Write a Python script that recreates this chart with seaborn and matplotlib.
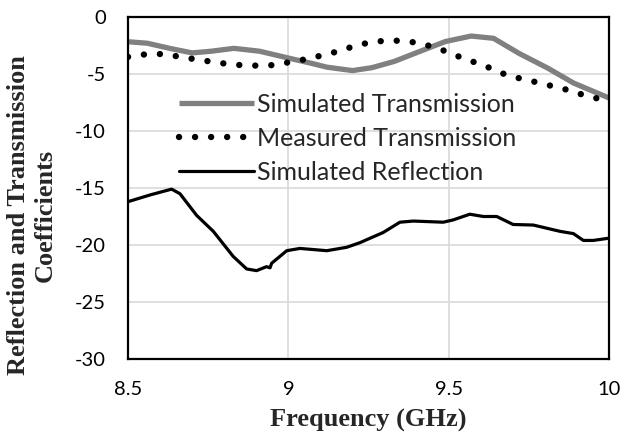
import matplotlib
matplotlib.use("Agg")
import matplotlib.pyplot as plt
import seaborn as sns
import pandas as pd

# Simulated transmission (GHz, dB)
freq_sim_t = [8.50, 8.56, 8.63, 8.70, 8.76, 8.83, 8.91, 9.00, 9.07, 9.12, 9.20,
              9.26, 9.33, 9.43, 9.49, 9.57, 9.64, 9.72, 9.81, 9.89, 10.00]
sim_t = [-2.17, -2.3, -2.75, -3.15, -3.0, -2.75, -3.0, -3.6, -4.05, -4.4, -4.7,
         -4.45, -3.9, -2.8, -2.15, -1.67, -1.87, -3.2, -4.5, -5.8, -7.1]

# Measured transmission (GHz, dB)
freq_meas_t = [8.50, 8.56, 8.61, 8.66, 8.71, 8.76, 8.81, 8.86, 8.91, 8.96, 9.01,
               9.06, 9.11, 9.16, 9.20, 9.25, 9.30, 9.35, 9.40, 9.45, 9.50, 9.54,
               9.59, 9.64, 9.68, 9.73, 9.78, 9.83, 9.88, 9.92, 9.97, 10.00]
meas_t = [-3.5, -3.25, -3.25, -3.48, -3.71, -3.92, -4.12, -4.24, -4.27, -4.21, -3.92,
          -3.68, -3.33, -2.98, -2.6, -2.25, -2.08, -2.08, -2.25, -2.6, -3.1, -3.57,
          -4.06, -4.59, -5.09, -5.44, -5.76, -6.11, -6.46, -6.84, -7.19, -7.3]

# Simulated reflection (GHz, dB)
freq_sim_r = [8.50, 8.57, 8.636, 8.662, 8.714, 8.766, 8.828, 8.87, 8.901, 8.932,
              8.943, 8.948, 8.995, 9.036, 9.12, 9.182, 9.223, 9.296, 9.348, 9.39,
              9.483, 9.514, 9.566, 9.608, 9.65, 9.701, 9.764, 9.847, 9.889, 9.92,
              9.951, 10.00]
sim_r = [-16.2, -15.6, -15.1, -15.5, -17.4, -18.8, -21.0, -22.1, -22.25, -21.9,
         -22.0, -21.6, -20.5, -20.3, -20.5, -20.2, -19.8, -18.9, -18.0, -17.9,
         -18.0, -17.8, -17.3, -17.5, -17.5, -18.2, -18.25, -18.8, -19.0, -19.6,
         -19.6, -19.4]

x_ticks = [8.5, 9, 9.5, 10]
x_tick_labels = ["8.5", "9", "9.5", "10"]
y_ticks = [0, -5, -10, -15, -20, -25, -30]
y_tick_labels = ["0", "-5", "-10", "-15", "-20", "-25", "-30"]

df_sim_t = pd.DataFrame({"f": freq_sim_t, "v": sim_t})
df_meas_t = pd.DataFrame({"f": freq_meas_t, "v": meas_t})
df_sim_r = pd.DataFrame({"f": freq_sim_r, "v": sim_r})

sns.set_style("white")
plt.rcParams["font.family"] = ["Lato", "DejaVu Sans"]

fig = plt.figure(figsize=(6.24, 4.38), dpi=100)
ax = fig.add_axes([128 / 624, 1 - 359 / 438, 481 / 624, 342 / 438])

sns.lineplot(data=df_sim_t, x="f", y="v", ax=ax, color="#808080", linewidth=3.8,
             label="Simulated Transmission", solid_capstyle="butt")
sns.lineplot(data=df_meas_t, x="f", y="v", ax=ax, color="black", linewidth=4.6,
             linestyle=(0, (0.01, 2.5)), dash_capstyle="round",
             label="Measured Transmission")
sns.lineplot(data=df_sim_r, x="f", y="v", ax=ax, color="black", linewidth=2.3,
             label="Simulated Reflection")

ax.set_xlim(8.5, 10)
ax.set_ylim(-30, 0)
ax.set_xticks(x_ticks)
ax.set_xticklabels(x_tick_labels)
ax.set_yticks(y_ticks)
ax.set_yticklabels(y_tick_labels)
ax.tick_params(axis="both", length=0, labelsize=14.5, colors="black")
ax.tick_params(axis="y", pad=16)
ax.tick_params(axis="x", pad=16)

ax.grid(True, color="#d9d9d9", linewidth=1.2)
ax.set_axisbelow(True)
for s in ax.spines.values():
    s.set_color("black")
    s.set_linewidth(1.6)

label_font = dict(family="Liberation Serif", weight="bold", size=19)
ax.set_xlabel("Frequency (GHz)", fontdict=label_font, labelpad=8)
ax.set_ylabel("Reflection and Transmission\nCoefficients", fontdict=label_font,
              linespacing=1.2)
ax.yaxis.label.set_verticalalignment("center")
ax.yaxis.set_label_coords(-0.2, 0.42)

ax.legend(loc="upper left", bbox_to_anchor=(0.105, 0.778), frameon=False,
          fontsize=18, handlelength=3.0, handletextpad=0.15, labelspacing=0.44,
          borderpad=0, borderaxespad=0)

fig.savefig("out.png", dpi=100)
